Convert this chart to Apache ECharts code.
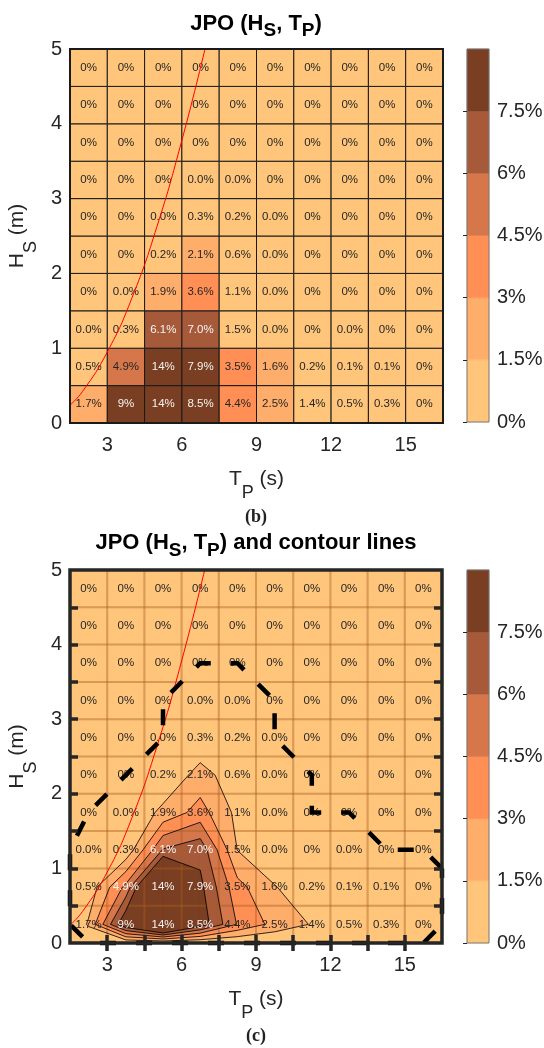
<!DOCTYPE html>
<html>
<head>
<meta charset="utf-8">
<script src="https://cdn.jsdelivr.net/npm/echarts@6/dist/echarts.min.js"></script>
<style>
html, body { margin: 0; padding: 0; background: #ffffff; }
#chart { width: 544px; height: 1048px; }
</style>
</head>
<body>
<div id="chart"></div>
<script>
// ---- Joint probability of occurrence of (Hs, Tp), in % ----
// Tp bin centres (s) and Hs bin centres (m)
const tpCenters = [2.25, 3.75, 5.25, 6.75, 8.25, 9.75, 11.25, 12.75, 14.25, 15.75];
const hsCenters = [0.25, 0.75, 1.25, 1.75, 2.25, 2.75, 3.25, 3.75, 4.25, 4.75];
const tpBin = 1.5;
const hsBin = 0.5;
const tpRange = [1.5, 16.5];
const hsRange = [0, 5];

// One array per Hs row, lowest row first; 0.02 stands for a non-zero share printed as 0.0 %
const hs0_05 = [1.7, 9, 14, 8.5, 4.4, 2.5, 1.4, 0.5, 0.3, 0];
const hs05_1 = [0.5, 4.9, 14, 7.9, 3.5, 1.6, 0.2, 0.1, 0.1, 0];
const hs1_15 = [0.02, 0.3, 6.1, 7.02, 1.46, 0.02, 0, 0.02, 0, 0];
const hs15_2 = [0, 0.02, 1.9, 3.6, 1.1, 0.02, 0, 0, 0, 0];
const hs2_25 = [0, 0, 0.2, 2.1, 0.6, 0.02, 0, 0, 0, 0];
const hs25_3 = [0, 0, 0.02, 0.3, 0.2, 0.02, 0, 0, 0, 0];
const hs3_35 = [0, 0, 0, 0.02, 0.02, 0, 0, 0, 0, 0];
const hs35_4 = [0, 0, 0, 0, 0, 0, 0, 0, 0, 0];
const hs4_45 = [0, 0, 0, 0, 0, 0, 0, 0, 0, 0];
const hs45_5 = [0, 0, 0, 0, 0, 0, 0, 0, 0, 0];
const hsRows = [hs0_05, hs05_1, hs1_15, hs15_2, hs2_25, hs25_3, hs3_35, hs35_4, hs4_45, hs45_5];

// Colour classes (%) and axis ticks
const levels = [0, 1.5, 3, 4.5, 6, 7.5, 9];
const bandColors = ['#FFC57B', '#FFAD6A', '#FF8F54', '#D5774A', '#A65A3A', '#7A3E22'];
const tpTickLabels = [3, 6, 9, 12, 15];
const hsTickLabels = [0, 1, 2, 3, 4, 5];
const tpMinorTicks = [3, 4.5, 6, 7.5, 9, 10.5, 12, 13.5, 15];
const hsMinorTicks = [0.5, 1, 1.5, 2, 2.5, 3, 3.5, 4, 4.5];
const cbTickLabels = [0, 1.5, 3, 4.5, 6, 7.5];

// Wave-steepness limit (red curve)
const steepTp = [1.5, 2, 3, 4, 5, 6, 6.93];
const steepHs = [0.24, 0.42, 0.95, 1.68, 2.63, 3.78, 5.0];

// Outer boundary contour (dashed)
const outerTp = [16.5, 15.75, 14.25, 12.75, 11.25, 11.25, 9.75, 9.75, 8.25, 6.75, 5.25, 5.25, 3.75, 2.25, 1.5, 1.5, 2.25, 15.75, 16.5, 16.5];
const outerHs = [1.0, 1.25, 1.25, 1.75, 1.75, 2.25, 2.75, 3.25, 3.75, 3.75, 3.25, 2.75, 2.25, 1.75, 1.25, 0.25, 0, 0, 0.25, 1.0];

const FONT = '"Liberation Sans", Arial, Helvetica, sans-serif';
const INK = '#262626';

function fmtPct(v) {
  if (v === 0) return '0%';
  if (Number.isInteger(v)) return v + '%';
  if (v >= 9.95) return Math.round(v) + '%';
  return v.toFixed(1) + '%';
}
function bandOf(v) {
  let k = 0;
  for (let i = 1; i < levels.length - 1; i++) if (v >= levels[i]) k = i;
  return k;
}

const cells = [];
hsRows.forEach((row, j) => row.forEach((v, i) => cells.push([tpCenters[i], hsCenters[j], v])));

// Filled contour bands and iso-lines by marching squares on the bin-centre grid,
// padded with zeros along the plot edges.
function buildContours() {
  const nodeT = [tpRange[0]].concat(tpCenters, [tpRange[1]]);
  const nodeH = [hsRange[0]].concat(hsCenters, [hsRange[1]]);
  const Z = nodeH.map((_, j) => nodeT.map((_, i) =>
    (j > 0 && j < nodeH.length - 1 && i > 0 && i < nodeT.length - 1) ? hsRows[j - 1][i - 1] : 0));
  const fills = [], lines = [];
  for (let k = 1; k < levels.length - 1; k++) {
    const L = levels[k];
    for (let j = 0; j < nodeH.length - 1; j++) {
      for (let i = 0; i < nodeT.length - 1; i++) {
        const cs = [[i, j], [i + 1, j], [i + 1, j + 1], [i, j + 1]]
          .map(([a, b]) => ({ p: [nodeT[a], nodeH[b]], z: Z[b][a] }));
        const poly = [], cr = [];
        for (let c = 0; c < 4; c++) {
          const a = cs[c], b = cs[(c + 1) % 4];
          const ina = a.z >= L, inb = b.z >= L;
          if (ina) poly.push(a.p);
          if (ina !== inb) {
            const f = (L - a.z) / (b.z - a.z);
            const p = [a.p[0] + f * (b.p[0] - a.p[0]), a.p[1] + f * (b.p[1] - a.p[1])];
            poly.push(p);
            cr.push({ p: p, exit: ina });
          }
        }
        if (poly.length >= 3) fills.push({ k: k, pts: poly });
        for (let m = 0; m < cr.length; m++) {
          if (cr[m].exit) lines.push([cr[m].p, cr[(m + 1) % cr.length].p]);
        }
      }
    }
  }
  return { fills, lines };
}
const contours = buildContours();

// Rich-text styles: m = main text, s = lowered subscript
function richStyles(size, subSize, drop, bold) {
  const w = bold ? 'bold' : 'normal';
  return {
    m: { fontSize: size, fontFamily: FONT, color: INK, fontWeight: w, lineHeight: size + 2 },
    s: { fontSize: subSize, fontFamily: FONT, color: INK, fontWeight: w, lineHeight: subSize + 2, padding: [drop * 2, 0, 0, 0] }
  };
}
const axisRich = richStyles(21, 18, 14, false);
const titleRich = richStyles(22, 19, 7.5, true);

function cellRect(api, t, h) {
  const p0 = api.coord([t - tpBin / 2, h + hsBin / 2]);
  const p1 = api.coord([t + tpBin / 2, h - hsBin / 2]);
  return { x: p0[0], y: p0[1], width: p1[0] - p0[0], height: p1[1] - p0[1] };
}
function cellLabel(api, t, h, v, whiteFrom) {
  const c = api.coord([t, h]);
  return {
    type: 'text',
    style: {
      text: fmtPct(v), x: c[0], y: c[1], align: 'center', verticalAlign: 'middle',
      font: '11.5px ' + FONT, fill: v >= whiteFrom ? '#f4f4f4' : INK
    }
  };
}

function plotAxes(gx, gy, boxed) {
  const label = { fontSize: 20, color: INK, fontFamily: FONT };
  const tick = boxed
    ? { show: true, inside: true, length: 8, lineStyle: { color: INK, width: 3.5 } }
    : { show: false };
  const x = [{
    type: 'value', gridIndex: gx, min: tpRange[0], max: tpRange[1], position: 'bottom',
    axisLine: { show: false }, splitLine: { show: false },
    axisTick: Object.assign({ customValues: tpMinorTicks }, tick),
    axisLabel: Object.assign({ customValues: tpTickLabels, margin: 12 }, label),
    name: '{m|T}{s|P}{m| (s)}', nameLocation: 'middle', nameGap: 27,
    nameTextStyle: { rich: axisRich }, z: 10
  }];
  const y = [{
    type: 'value', gridIndex: gy, min: hsRange[0], max: hsRange[1], position: 'left',
    axisLine: { show: false }, splitLine: { show: false },
    axisTick: Object.assign({ customValues: hsMinorTicks }, tick),
    axisLabel: Object.assign({ customValues: hsTickLabels, margin: 8 }, label),
    name: '{m|H}{s|S}{m| (m)}', nameLocation: 'middle', nameGap: 24, nameRotate: 90,
    nameTextStyle: { rich: axisRich }, z: 10
  }];
  if (boxed) {
    x.push({
      type: 'value', gridIndex: gx, min: tpRange[0], max: tpRange[1], position: 'top',
      axisLine: { show: false }, splitLine: { show: false }, axisLabel: { show: false },
      axisTick: Object.assign({ customValues: tpMinorTicks }, tick), z: 10
    });
    y.push({
      type: 'value', gridIndex: gy, min: hsRange[0], max: hsRange[1], position: 'right',
      axisLine: { show: false }, splitLine: { show: false }, axisLabel: { show: false },
      axisTick: Object.assign({ customValues: hsMinorTicks }, tick), z: 10
    });
  }
  return { x, y };
}

function colorbarAxes(g) {
  return {
    x: { type: 'value', gridIndex: g, min: 0, max: 1, show: false },
    y: {
      type: 'value', gridIndex: g, min: levels[0], max: levels[levels.length - 1], position: 'right',
      axisLine: { show: false }, splitLine: { show: false },
      axisTick: { show: true, inside: true, length: 4, customValues: cbTickLabels, lineStyle: { color: INK, width: 1 } },
      axisLabel: { customValues: cbTickLabels, formatter: v => v + '%', fontSize: 20, color: INK, fontFamily: FONT, margin: 8 },
      z: 10
    }
  };
}

const bAxes = plotAxes(0, 0, false);   // x 0, y 0
const cbB = colorbarAxes(1);           // x 1, y 1
const cAxes = plotAxes(2, 2, true);    // x 2,3 ; y 2,3
const cbC = colorbarAxes(3);           // x 4, y 4

const bands = levels.slice(0, -1).map((lo, k) => [0.5, lo, levels[k + 1], k]);
function colorbarSeries(xi, yi) {
  return {
    type: 'custom', xAxisIndex: xi, yAxisIndex: yi, data: bands, encode: { x: 0, y: [1, 2] }, silent: true, z: 2,
    renderItem: (params, api) => {
      const p0 = api.coord([0, api.value(2)]);
      const p1 = api.coord([1, api.value(1)]);
      return { type: 'rect', shape: { x: p0[0], y: p0[1], width: p1[0] - p0[0], height: p1[1] - p0[1] },
        style: { fill: bandColors[api.value(3)], stroke: bandColors[api.value(3)], lineWidth: 0.5 } };
    }
  };
}

const anchor = [[tpCenters[0], hsCenters[0]]];
const gridBase = { show: true, z: 10, outerBoundsMode: 'none', containLabel: false };

const option = {
  animation: false,
  grid: [
    Object.assign({ left: 70, top: 49, width: 373, height: 374, borderColor: '#1a1a1a', borderWidth: 2 }, gridBase),
    Object.assign({ left: 467, top: 49, width: 22, height: 373, borderColor: '#7a7a7a', borderWidth: 1 }, gridBase),
    Object.assign({ left: 70, top: 570, width: 372, height: 373, borderColor: INK, borderWidth: 3.5 }, gridBase),
    Object.assign({ left: 467, top: 570, width: 22, height: 373, borderColor: '#7a7a7a', borderWidth: 1 }, gridBase)
  ],
  xAxis: [bAxes.x[0], cbB.x, cAxes.x[0], cAxes.x[1], cbC.x],
  yAxis: [bAxes.y[0], cbB.y, cAxes.y[0], cAxes.y[1], cbC.y],
  graphic: [
    { type: 'text', x: 256, y: 23.5, z: 20, style: { text: '{m|JPO (H}{s|S}{m|, T}{s|P}{m|)}', rich: titleRich,
        align: 'center', verticalAlign: 'middle' } },
    { type: 'text', x: 256, y: 543, z: 20, style: { text: '{m|JPO (H}{s|S}{m|, T}{s|P}{m|) and contour lines}', rich: titleRich,
        align: 'center', verticalAlign: 'middle' } },
    { type: 'text', x: 256, y: 517, z: 20, style: { text: '(b)', align: 'center', verticalAlign: 'middle',
        font: 'bold 18px "Liberation Serif", "DejaVu Serif", serif', fill: '#222' } },
    { type: 'text', x: 256, y: 1036, z: 20, style: { text: '(c)', align: 'center', verticalAlign: 'middle',
        font: 'bold 18px "Liberation Serif", "DejaVu Serif", serif', fill: '#222' } }
  ],
  series: [
    // (b) coloured bins with their percentages
    {
      type: 'custom', xAxisIndex: 0, yAxisIndex: 0, data: cells, silent: true, z: 2,
      renderItem: (params, api) => {
        const t = api.value(0), h = api.value(1), v = api.value(2);
        return { type: 'group', children: [
          { type: 'rect', shape: cellRect(api, t, h), style: { fill: bandColors[bandOf(v)], stroke: '#1a1a1a', lineWidth: 1 } },
          cellLabel(api, t, h, v, 6)
        ] };
      }
    },
    {
      type: 'line', xAxisIndex: 0, yAxisIndex: 0, data: steepTp.map((t, i) => [t, steepHs[i]]),
      smooth: true, symbol: 'none', silent: true, z: 6, lineStyle: { color: '#ff0000', width: 1 }
    },
    colorbarSeries(1, 1),

    // (c) background bins
    {
      type: 'custom', xAxisIndex: 2, yAxisIndex: 2, data: cells, silent: true, z: 1,
      renderItem: (params, api) => ({ type: 'rect', shape: cellRect(api, api.value(0), api.value(1)),
        style: { fill: bandColors[0], stroke: bandColors[0], lineWidth: 0.5 } })
    },
    // (c) filled contour bands
    {
      type: 'custom', xAxisIndex: 2, yAxisIndex: 2, data: anchor, silent: true, z: 2,
      renderItem: (params, api) => ({ type: 'group', children: contours.fills.map(f => ({
        type: 'polygon', shape: { points: f.pts.map(p => api.coord(p)) },
        style: { fill: bandColors[f.k], stroke: bandColors[f.k], lineWidth: 0.6 } })) })
    },
    // (c) faint bin grid
    {
      type: 'custom', xAxisIndex: 2, yAxisIndex: 2, data: cells, silent: true, z: 3,
      renderItem: (params, api) => ({ type: 'rect', shape: cellRect(api, api.value(0), api.value(1)),
        style: { fill: 'none', stroke: 'rgba(170,95,30,0.25)', lineWidth: 2 } })
    },
    // (c) contour lines
    {
      type: 'custom', xAxisIndex: 2, yAxisIndex: 2, data: anchor, silent: true, z: 4,
      renderItem: (params, api) => ({ type: 'group', children: contours.lines.map(s => {
        const a = api.coord(s[0]), b = api.coord(s[1]);
        return { type: 'line', shape: { x1: a[0], y1: a[1], x2: b[0], y2: b[1] }, style: { stroke: '#000', lineWidth: 0.8 } };
      }) })
    },
    // (c) percentages
    {
      type: 'custom', xAxisIndex: 2, yAxisIndex: 2, data: cells, silent: true, z: 5,
      renderItem: (params, api) => cellLabel(api, api.value(0), api.value(1), api.value(2), 4.5)
    },
    {
      type: 'line', xAxisIndex: 2, yAxisIndex: 2, data: steepTp.map((t, i) => [t, steepHs[i]]),
      smooth: true, symbol: 'none', silent: true, z: 6, lineStyle: { color: '#ff0000', width: 1 }
    },
    {
      type: 'line', xAxisIndex: 2, yAxisIndex: 2, data: outerTp.map((t, i) => [t, outerHs[i]]),
      symbol: 'none', silent: true, clip: false, z: 7,
      lineStyle: { color: '#000', width: 4.5, type: [16, 20], cap: 'butt', join: 'miter' }
    },
    colorbarSeries(4, 4)
  ]
};

const chart = echarts.init(document.getElementById('chart'), null, { renderer: 'canvas' });
chart.setOption(option);
</script>
</body>
</html>
